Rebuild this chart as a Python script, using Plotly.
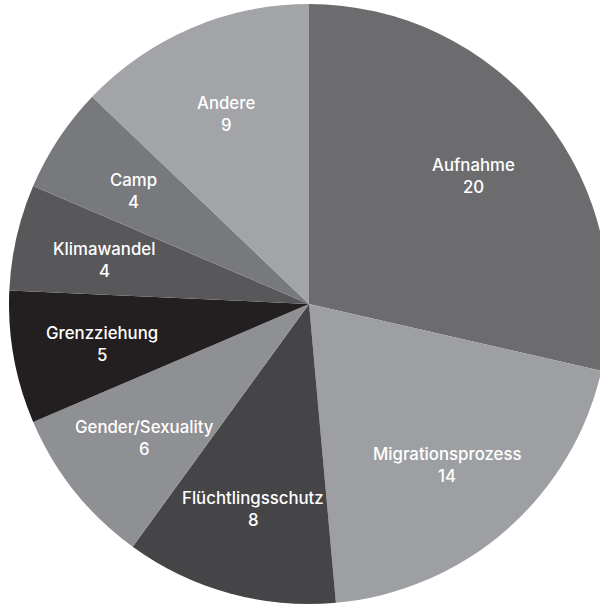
import math
import plotly.graph_objects as go

labels = ["Aufnahme", "Migrationsprozess", "Flüchtlingsschutz", "Gender/Sexuality",
          "Grenzziehung", "Klimawandel", "Camp", "Andere"]
values = [20, 14, 8, 6, 5, 4, 4, 9]
colors = ["#6c6c6e", "#9e9fa2", "#454547", "#8f9093",
          "#231f20", "#58585a", "#78797c", "#a3a4a7"]

W, H = 600, 605
ML, MR, MT, MB = 0, 0, 4, 1
pw, ph = W - ML - MR, H - MT - MB
R = min(pw, ph) / 2.0

fig = go.Figure(go.Pie(
    labels=labels, values=values, sort=False, direction="clockwise", rotation=0,
    marker=dict(colors=colors, line=dict(width=0)),
    textinfo="none", hoverinfo="label+value", showlegend=False,
))

font = dict(family="Inter, Liberation Sans, Arial, sans-serif", size=16.8, color="white", weight=500)
total = sum(values)
cum = 0
annotations = []
for lab, v in zip(labels, values):
    mid = (cum + v / 2) / total * 2 * math.pi
    cum += v
    dx = 0.70 * R * math.sin(mid)
    dy = 0.70 * R * math.cos(mid)
    x = 0.5 + dx / pw
    y = 0.5 + dy / ph
    annotations.append(dict(x=x, y=y, xref="paper", yref="paper", text=lab,
                            showarrow=False, font=font, xanchor="center",
                            yanchor="middle", yshift=8))
    annotations.append(dict(x=x, y=y, xref="paper", yref="paper", text=str(v),
                            showarrow=False, font=font, xanchor="center",
                            yanchor="middle", yshift=-14))

fig.update_layout(
    width=W, height=H, margin=dict(l=ML, r=MR, t=MT, b=MB),
    paper_bgcolor="white", plot_bgcolor="white",
    annotations=annotations,
)
fig.write_html(
    "out.html",
    post_script="document.body.style.margin='0px 0px 0px 9px';"
                "document.body.style.overflow='hidden';"
                "document.documentElement.style.overflow='hidden';",
)
